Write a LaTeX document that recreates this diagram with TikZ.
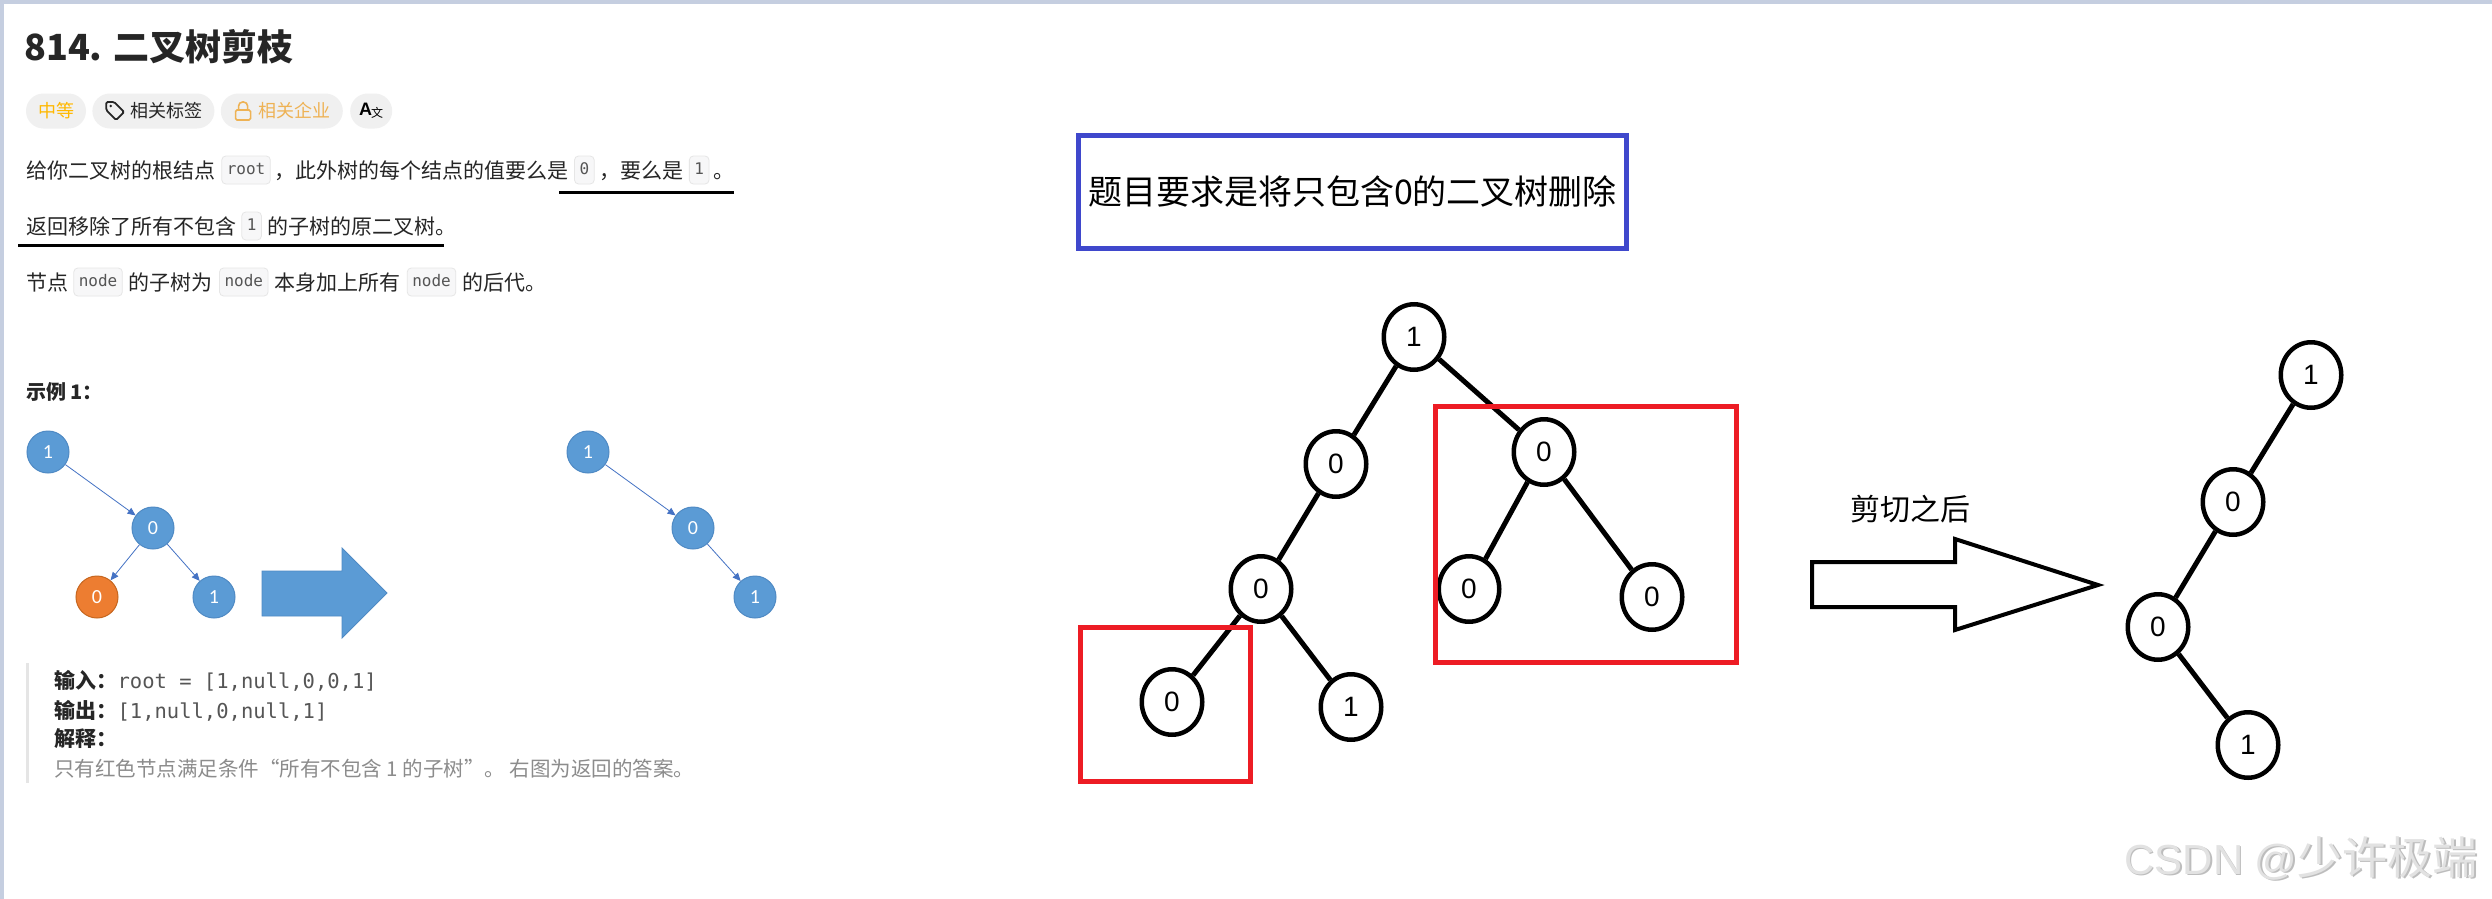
\documentclass[tikz,border=0pt]{standalone}
\usepackage{fontspec}
\setmainfont{Noto Sans CJK SC}
\setmonofont{DejaVu Sans Mono}
\newfontfamily\lsans{Liberation Sans}
\newfontfamily\carlito{Carlito}
\usetikzlibrary{arrows.meta, positioning, calc, shapes.geometric}
\newcommand{\fsz}[1]{\fontsize{#1}{#1}\selectfont}
\definecolor{strip}{HTML}{C5CEE0}
\definecolor{bodytext}{HTML}{262626}
\definecolor{codebg}{HTML}{F7F7F8}
\definecolor{codeline}{HTML}{E6E6E6}
\definecolor{codetext}{HTML}{555555}
\definecolor{pillbg}{HTML}{F0F0F0}
\definecolor{amber}{HTML}{FFB800}
\definecolor{corp}{HTML}{EEB254}
\definecolor{quote}{HTML}{E5E5E5}
\definecolor{graytext}{HTML}{8C8C8C}
\definecolor{exblue}{HTML}{5B9BD5}
\definecolor{exbluedk}{HTML}{4F8AC4}
\definecolor{exorange}{HTML}{ED7D31}
\definecolor{exorangedk}{HTML}{C6661F}
\definecolor{exline}{HTML}{4472C4}
\definecolor{goalblue}{HTML}{3F48CC}
\definecolor{cutred}{HTML}{ED1C24}
\definecolor{markgray}{HTML}{E2E2E2}
\definecolor{markshade}{HTML}{BDBDBD}

\begin{document}
\begin{tikzpicture}[x=1pt, y=-1pt,
  body/.style={anchor=west, inner sep=0pt, text height=16pt, text depth=0pt, text=bodytext, font=\fsz{21}},
  code/.style={fill=codebg, draw=codeline, line width=0.8pt, rounded corners=4pt, inner xsep=5pt, inner ysep=0pt,
    minimum height=28pt, text height=11pt, text depth=3pt, text=codetext, font=\ttfamily\fsz{16}},
  pill/.style={fill=pillbg, rounded corners=17.5pt, minimum height=35pt, inner xsep=12pt, inner ysep=0pt, font=\fsz{18}},
  uline/.style={line width=3pt},
  exnode/.style={circle, fill=exblue, draw=exbluedk, line width=1pt, minimum size=42pt, inner sep=0pt,
    text=white, font=\carlito\fsz{20}},
  exedge/.style={draw=exline, line width=0.8pt, -{Triangle[length=8pt, width=7pt]}},
  pnode/.style={ellipse, draw=black, fill=white, line width=4.5pt, minimum width=60.5pt, minimum height=65.5pt,
    inner sep=0pt, font=\lsans\fsz{28}},
  pedge/.style={line width=5pt},
  cutbox/.style={draw=cutred, line width=5pt}]

\useasboundingbox (0,0) rectangle (2492,899);
\fill[white] (0,0) rectangle (2492,899);

% Browser frame
\fill[strip] (0,0) rectangle (2492,4);
\fill[strip] (0,0) rectangle (4,899);

% Problem statement
\node[anchor=west, inner sep=0pt, text=bodytext, font=\bfseries\fsz{36}] (title) at (24,47) {814. 二叉树剪枝};

\node[pill, text=amber] (lvl) at (56,111) {中等};
\node[pill, right=6pt of lvl, text=bodytext] (tags) {\hspace{26pt}相关标签};
\node[pill, right=6pt of tags, text=corp] (corps) {\hspace{26pt}相关企业};
\node[pill, right=7pt of corps, inner xsep=9pt, text=black] (lang) {{\lsans\bfseries A}\hspace{-1pt}\raisebox{-2pt}{\fsz{12}文}};
% pill icons
\draw[bodytext, line width=1.8pt, rounded corners=1.5pt]
  ($(tags.west)+(14,-9)$) -- ($(tags.west)+(22,-9)$) -- ($(tags.west)+(32,1)$)
  -- ($(tags.west)+(24,9)$) -- ($(tags.west)+(14,-1)$) -- cycle;
\fill[bodytext] ($(tags.west)+(18.5,-5)$) circle (1.4pt);
\draw[corp, line width=1.6pt, rounded corners=1.5pt] ($(corps.west)+(15,-1)$) rectangle ($(corps.west)+(30,9)$);
\draw[corp, line width=1.6pt, rounded corners=4pt] ($(corps.west)+(18,-1)$) -- ($(corps.west)+(18,-9)$)
  -- ($(corps.west)+(27,-9)$) -- ($(corps.west)+(27,-1)$);

% line 1
\node[body] (l1a) at (26,170) {给你二叉树的根结点};
\node[code, right=6pt of l1a] (l1b) {root};
\node[body, right=4pt of l1b] (l1c) {，此外树的每个结点的值要么是};
\node[code, right=5pt of l1c] (l1d) {0};
\node[body, right=5pt of l1d] (l1e) {，要么是};
\node[code, right=5pt of l1e] (l1f) {1};
\node[body, right=4pt of l1f] (l1g) {。};
\draw[uline] (559,192) -- (734,192);

% line 2
\node[body] (l2a) at (26,226) {返回移除了所有不包含};
\node[code, right=5pt of l2a] (l2b) {1};
\node[body, right=5pt of l2b] (l2c) {的子树的原二叉树。};
\draw[uline] (18,245) -- (444,245);

% line 3
\node[body] (l3a) at (26,282) {节点};
\node[code, right=5pt of l3a] (l3b) {node};
\node[body, right=6pt of l3b] (l3c) {的子树为};
\node[code, right=6pt of l3c] (l3d) {node};
\node[body, right=6pt of l3d] (l3e) {本身加上所有};
\node[code, right=6pt of l3e] (l3f) {node};
\node[body, right=6pt of l3f] (l3g) {的后代。};

\node[body, font=\bfseries\fsz{20}] (exlabel) at (26,391) {示例 1：};

% Example 1: input tree
\node[exnode] (ea) at (48,452) {1};
\node[exnode] (eb) at (153,528) {0};
\node[exnode, fill=exorange, draw=exorangedk] (ec) at (97,597) {0};
\node[exnode] (ed) at (214,597) {1};
\draw[exedge] (ea) -- (eb);
\draw[exedge] (eb) -- (ec);
\draw[exedge] (eb) -- (ed);

\filldraw[fill=exblue, draw=exbluedk, line width=0.8pt]
  (262,571) -- (342,571) -- (342,548) -- (387,593) -- (342,638) -- (342,616) -- (262,616) -- cycle;

% Example 1: output tree
\node[exnode] (fa) at (588,452) {1};
\node[exnode] (fb) at (693,528) {0};
\node[exnode] (fc) at (755,597) {1};
\draw[exedge] (fa) -- (fb);
\draw[exedge] (fb) -- (fc);

% Example 1: explanation
\draw[quote, line width=3pt] (27,663) -- (27,783);
\node[body, font=\bfseries\fsz{21}] (inl) at (54,680) {输入：};
\node[body, right=0pt of inl, text=codetext, font=\ttfamily\fsz{20.5}] (inv) {root = [1,null,0,0,1]};
\node[body, font=\bfseries\fsz{21}] (outl) at (54,710) {输出：};
\node[body, right=0pt of outl, text=codetext, font=\ttfamily\fsz{20.5}] (outv) {[1,null,0,null,1]};
\node[body, font=\bfseries\fsz{21}] (expl) at (54,738) {解释：};
\node[body, text=graytext, font=\fsz{20.5}] (expt) at (54,768) {只有红色节点满足条件“所有不包含 1 的子树”。 右图为返回的答案。};

% Goal
\node[draw=goalblue, line width=5pt, minimum width=548pt, minimum height=113pt, inner sep=0pt, font=\fsz{34}]
  (goal) at (1352.5,192) {题目要求是将只包含0的二叉树删除};

% Full tree
\node[pnode] (t1) at (1414,337) {1};
\node[pnode] (t2) at (1336,464) {0};
\node[pnode] (t3) at (1544,452) {0};
\node[pnode] (t4) at (1261,589) {0};
\node[pnode] (t5) at (1469,589) {0};
\node[pnode] (t6) at (1652,597) {0};
\node[pnode] (t7) at (1172,702) {0};
\node[pnode] (t8) at (1351,707) {1};
\foreach \a/\b in {t1/t2, t1/t3, t2/t4, t3/t5, t3/t6, t4/t7, t4/t8}
  \draw[pedge] (\a) -- (\b);

% Subtrees holding only 0
\draw[cutbox] (1080.5,627.5) rectangle (1250.5,781.5);
\draw[cutbox] (1435.5,406.5) rectangle (1736.5,662.5);

% Hollow arrow
\node[inner sep=0pt, font=\fsz{30}] (after) at (1910,509) {剪切之后};
\draw[line width=4pt, line join=miter]
  (1812,562) -- (1955,562) -- (1955,539) -- (2098,585) -- (1955,630) -- (1955,607) -- (1812,607) -- cycle;

% Pruned tree
\node[pnode] (r1) at (2311,375) {1};
\node[pnode] (r2) at (2233,502) {0};
\node[pnode] (r3) at (2158,627) {0};
\node[pnode] (r4) at (2248,745) {1};
\foreach \a/\b in {r1/r2, r2/r3, r3/r4}
  \draw[pedge] (\a) -- (\b);

% Watermark
\node[text=markshade, inner sep=0pt] (wmshade) at (2302.5,859.5) {{\lsans\fsz{42}CSDN @}{\fsz{45}少许极端}};
\node[text=markgray, inner sep=0pt] (wm) at (2301,858) {{\lsans\fsz{42}CSDN @}{\fsz{45}少许极端}};

\end{tikzpicture}
\end{document}
